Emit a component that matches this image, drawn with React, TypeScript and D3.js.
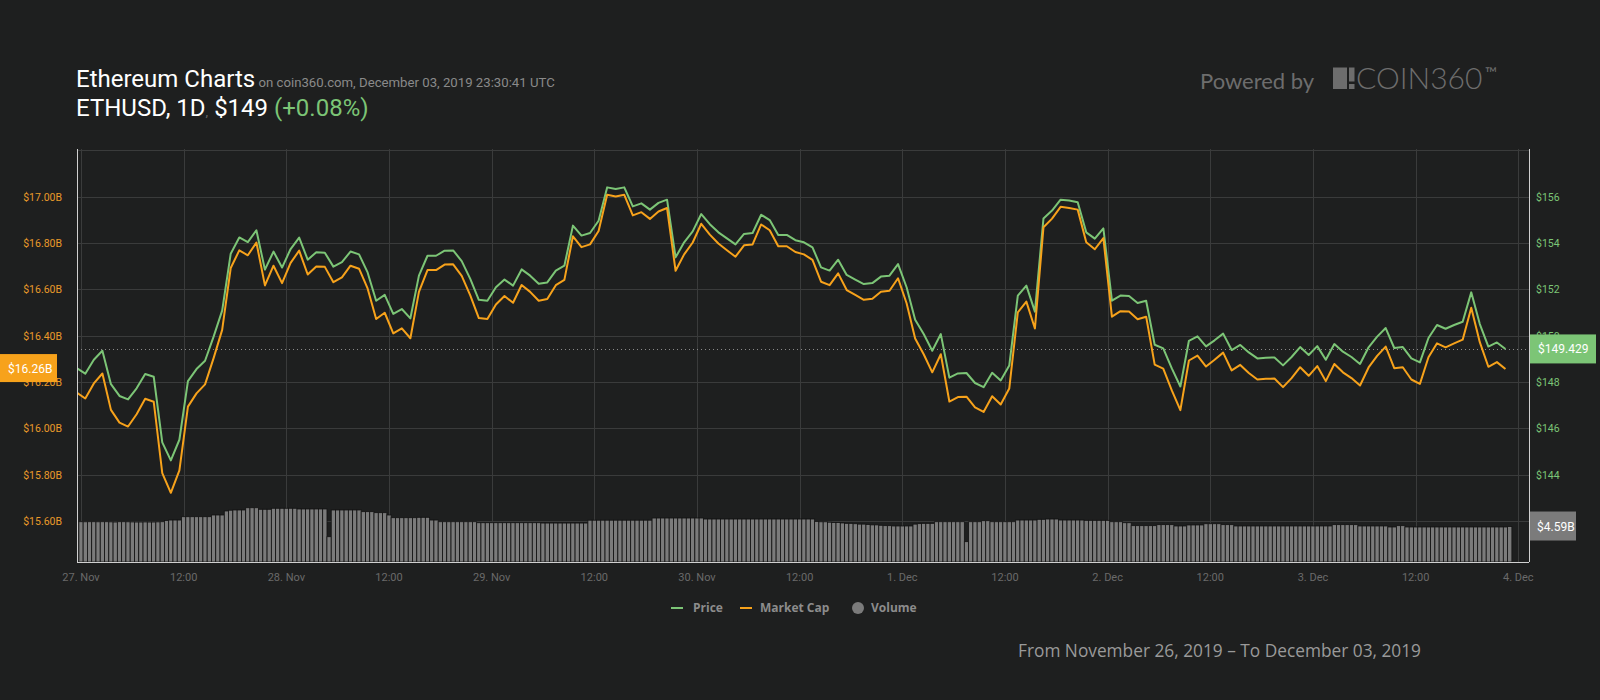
import { useEffect, useRef } from 'react';
import * as d3 from 'd3';

const WIDTH = 1600;
const HEIGHT = 700;

const BG = '#1e1f1f';
const GRID = '#3a3b3b';
const GREEN = '#7cc576';
const ORANGE = '#f7a21b';
const VOLUME = '#7b7b7b';

// hourly points, first one at 26 Nov 2019 23:30 UTC
const START = Date.UTC(2019, 10, 26, 23, 30);
const HOUR = 3600 * 1000;

// ETH price, USD
const priceValues = [
  148.6, 148.36, 148.96, 149.35, 147.91, 147.4, 147.25, 147.73, 148.35, 148.23, 145.4, 144.62, 145.51, 148.04, 148.56, 148.92, 149.96, 151.08, 153.54, 154.24, 154.04, 154.55, 152.85, 153.63,
  152.94, 153.74, 154.23, 153.28, 153.6, 153.58, 152.98, 153.17, 153.63, 153.51, 152.73, 151.51, 151.76, 150.94, 151.15, 150.75, 152.59, 153.45, 153.45, 153.67, 153.68, 153.22, 152.45, 151.55,
  151.51, 152.09, 152.42, 152.16, 152.86, 152.59, 152.24, 152.3, 152.81, 153.02, 154.75, 154.32, 154.43, 154.96, 156.4, 156.33, 156.4, 155.58, 155.71, 155.44, 155.73, 155.87, 153.38, 154.03,
  154.5, 155.25, 154.81, 154.46, 154.2, 153.94, 154.39, 154.43, 155.22, 154.99, 154.35, 154.35, 154.12, 154.03, 153.81, 152.95, 152.81, 153.28, 152.62, 152.42, 152.23, 152.27, 152.55, 152.59,
  153.09, 152.09, 150.69, 150.07, 149.35, 150.07, 148.19, 148.37, 148.39, 147.96, 147.78, 148.4, 148.07, 148.71, 151.73, 152.16, 151.04, 155.06, 155.4, 155.87, 155.83, 155.76, 154.46, 154.19,
  154.63, 151.51, 151.73, 151.71, 151.41, 151.51, 149.61, 149.45, 148.59, 147.81, 149.78, 149.97, 149.54, 149.8, 150.09, 149.38, 149.6, 149.28, 149.02, 149.05, 149.06, 148.72, 149.08, 149.51,
  149.17, 149.55, 148.96, 149.64, 149.31, 149.08, 148.78, 149.5, 149.96, 150.33, 149.47, 149.51, 149.02, 148.85, 149.9, 150.46, 150.3, 150.46, 150.6, 151.87, 150.5, 149.53, 149.71, 149.429,
];

// market cap, billions USD
const marketCapValues = [
  16.155, 16.129, 16.194, 16.237, 16.08, 16.025, 16.008, 16.061, 16.128, 16.115, 15.807, 15.722, 15.819, 16.094, 16.151, 16.19, 16.303, 16.425, 16.692, 16.768, 16.747, 16.802, 16.617, 16.702,
  16.627, 16.714, 16.767, 16.664, 16.699, 16.697, 16.631, 16.652, 16.702, 16.689, 16.604, 16.472, 16.499, 16.41, 16.432, 16.389, 16.589, 16.683, 16.683, 16.707, 16.708, 16.658, 16.574, 16.476,
  16.472, 16.535, 16.571, 16.542, 16.619, 16.589, 16.551, 16.558, 16.618, 16.641, 16.829, 16.782, 16.794, 16.852, 17.008, 17.001, 17.008, 16.919, 16.933, 16.904, 16.936, 16.951, 16.68, 16.751,
  16.802, 16.883, 16.836, 16.798, 16.769, 16.741, 16.79, 16.794, 16.88, 16.855, 16.786, 16.786, 16.761, 16.751, 16.727, 16.633, 16.618, 16.669, 16.597, 16.576, 16.555, 16.559, 16.59, 16.594,
  16.648, 16.54, 16.388, 16.32, 16.242, 16.32, 16.116, 16.135, 16.137, 16.091, 16.071, 16.139, 16.103, 16.172, 16.501, 16.547, 16.431, 16.868, 16.905, 16.956, 16.951, 16.944, 16.803, 16.773,
  16.821, 16.482, 16.506, 16.504, 16.471, 16.482, 16.275, 16.258, 16.164, 16.079, 16.293, 16.314, 16.267, 16.296, 16.327, 16.25, 16.274, 16.239, 16.211, 16.214, 16.215, 16.178, 16.217, 16.264,
  16.227, 16.269, 16.204, 16.278, 16.242, 16.217, 16.185, 16.263, 16.313, 16.353, 16.26, 16.264, 16.211, 16.192, 16.307, 16.367, 16.35, 16.367, 16.383, 16.521, 16.372, 16.266, 16.286, 16.256,
];

// 24h volume, billions USD, every 30 minutes from the same start
const volumeValues = [
  5.21, 5.21, 5.2, 5.21, 5.21, 5.2, 5.21, 5.21, 5.19, 5.17, 5.21, 5.21, 5.2, 5.18, 5.17, 5.17, 5.18, 5.17, 5.17, 5.19, 5.21, 5.38, 5.43, 5.43,
  5.43, 5.86, 5.86, 5.86, 5.86, 5.86, 5.86, 5.86, 6.08, 6.08, 6.08, 6.6, 6.7, 6.73, 6.73, 6.73, 7.02, 7.02, 7.02, 6.82, 6.82, 6.82, 6.95, 6.95,
  6.95, 6.95, 6.95, 6.95, 6.86, 6.86, 6.86, 6.86, 6.86, 6.86, 6.86, 3.27, 6.73, 6.73, 6.73, 6.73, 6.73, 6.73, 6.73, 6.51, 6.51, 6.51, 6.38, 6.38,
  6.38, 6.08, 5.73, 5.73, 5.73, 5.73, 5.73, 5.73, 5.78, 5.78, 5.78, 5.43, 5.43, 5.21, 5.21, 5.21, 5.21, 5.21, 5.21, 5.21, 5.21, 5.21, 5.08, 5.08,
  5.08, 5.08, 5.08, 5.08, 5.08, 5.08, 5.08, 5.08, 5.08, 5.08, 5.08, 5.08, 5.08, 5.04, 5.04, 5.04, 5.04, 5.04, 5.04, 5.04, 5.04, 5.04, 5.04, 5.04,
  5.41, 5.41, 5.41, 5.41, 5.41, 5.41, 5.41, 5.41, 5.41, 5.41, 5.41, 5.41, 5.41, 5.41, 5.41, 5.69, 5.69, 5.69, 5.69, 5.69, 5.69, 5.69, 5.69, 5.69,
  5.69, 5.69, 5.69, 5.56, 5.56, 5.56, 5.56, 5.56, 5.56, 5.56, 5.56, 5.56, 5.56, 5.56, 5.56, 5.56, 5.56, 5.56, 5.56, 5.56, 5.56, 5.56, 5.56, 5.56,
  5.56, 5.56, 5.56, 5.56, 5.56, 5.25, 5.2, 5.2, 5.15, 5.1, 5.1, 5.05, 5.0, 5.0, 4.95, 4.9, 4.9, 4.85, 4.8, 4.8, 4.75, 4.7, 4.7, 4.66,
  4.66, 4.66, 4.66, 4.66, 4.9, 4.96, 5.0, 5.0, 5.0, 5.21, 5.21, 5.21, 5.21, 5.21, 5.21, 5.21, 2.63, 5.21, 5.21, 5.21, 5.34, 5.34, 5.21, 5.21,
  5.21, 5.21, 5.21, 5.21, 5.43, 5.43, 5.43, 5.43, 5.43, 5.52, 5.52, 5.56, 5.56, 5.56, 5.43, 5.43, 5.43, 5.43, 5.43, 5.43, 5.39, 5.39, 5.39, 5.39,
  5.39, 5.39, 5.21, 5.21, 5.21, 5.08, 5.08, 4.7, 4.7, 4.7, 4.7, 4.7, 4.7, 4.83, 4.83, 4.83, 4.83, 4.66, 4.66, 4.66, 4.79, 4.79, 4.79, 4.79,
  4.95, 4.95, 4.95, 4.95, 4.83, 4.83, 4.83, 4.66, 4.66, 4.66, 4.66, 4.66, 4.66, 4.66, 4.66, 4.66, 4.66, 4.66, 4.66, 4.66, 4.66, 4.66, 4.66, 4.66,
  4.66, 4.66, 4.66, 4.66, 4.66, 4.66, 4.83, 4.83, 4.83, 4.83, 4.83, 4.83, 4.66, 4.66, 4.66, 4.66, 4.66, 4.66, 4.66, 4.53, 4.53, 4.7, 4.7, 4.53,
  4.53, 4.53, 4.53, 4.53, 4.53, 4.53, 4.53, 4.53, 4.53, 4.53, 4.53, 4.53, 4.53, 4.53, 4.53, 4.53, 4.53, 4.53, 4.53, 4.53, 4.53, 4.53, 4.53, 4.59,
];

// gridlines run 142..158; only 144..156 show a label ($142 sits under the volume flag)
const priceTicks = [142, 144, 146, 148, 150, 152, 154, 156, 158];
const priceLabelTicks = [144, 146, 148, 150, 152, 154, 156];
const priceTickLabels = ['$144', '$146', '$148', '$150', '$152', '$154', '$156'];
const capTicks = [15.6, 15.8, 16.0, 16.2, 16.4, 16.6, 16.8, 17.0];
const capTickLabels = ['$15.60B', '$15.80B', '$16.00B', '$16.20B', '$16.40B', '$16.60B', '$16.80B', '$17.00B'];
const timeTickLabels = [
  '27. Nov', '12:00', '28. Nov', '12:00', '29. Nov', '12:00', '30. Nov', '12:00',
  '1. Dec', '12:00', '2. Dec', '12:00', '3. Dec', '12:00', '4. Dec',
];

const lastPriceLabel = '$149.429';
const lastCapLabel = '$16.26B';
const lastVolumeLabel = '$4.59B';

const App = () => {
  const ref = useRef<SVGSVGElement | null>(null);

  useEffect(() => {
    if (!ref.current) return;
    document.body.style.margin = '0';
    document.body.style.background = BG;

    const svg = d3.select(ref.current);
    svg.selectAll('*').remove();

    const plot = { left: 77, right: 1529, top: 149, bottom: 562 };
    const crisp = (v: number) => Math.round(v) + 0.5;

    const x = d3
      .scaleUtc()
      .domain([new Date(Date.UTC(2019, 10, 27)), new Date(Date.UTC(2019, 11, 4))])
      .range([81, 1518.3]);
    const yPrice = d3.scaleLinear().domain([142, 158]).range([521.1, 150.3]);
    const yCap = d3.scaleLinear().domain([15.6, 17.2]).range([521.1, 150.3]);
    const yVol = d3.scaleLinear().domain([0, 10]).range([plot.bottom, 484.7]);

    const hourTime = (i: number) => new Date(START + i * HOUR);
    const halfHourTime = (i: number) => new Date(START + (i * HOUR) / 2);

    svg.append('rect').attr('width', WIDTH).attr('height', HEIGHT).attr('fill', BG);

    svg
      .append('defs')
      .append('clipPath')
      .attr('id', 'plot-clip')
      .append('rect')
      .attr('x', plot.left)
      .attr('y', plot.top)
      .attr('width', plot.right - plot.left)
      .attr('height', plot.bottom - plot.top);

    // grid
    const grid = svg.append('g').attr('stroke', GRID).attr('stroke-width', 1);
    grid
      .selectAll('line.h')
      .data(priceTicks)
      .join('line')
      .attr('class', 'h')
      .attr('x1', plot.left)
      .attr('x2', plot.right)
      .attr('y1', (d) => crisp(yPrice(d)))
      .attr('y2', (d) => crisp(yPrice(d)));

    const timeTicks = x.ticks(d3.utcHour.every(12)!);
    grid
      .selectAll('line.v')
      .data(timeTicks)
      .join('line')
      .attr('class', 'v')
      .attr('x1', (d) => crisp(x(d)))
      .attr('x2', (d) => crisp(x(d)))
      .attr('y1', plot.top)
      .attr('y2', plot.bottom);

    // volume columns
    const step = x(halfHourTime(1)) - x(halfHourTime(0));
    svg
      .append('g')
      .attr('clip-path', 'url(#plot-clip)')
      .selectAll('rect')
      .data(volumeValues)
      .join('rect')
      .attr('x', (_, i) => x(halfHourTime(i)) - step / 2)
      .attr('y', (d) => yVol(d))
      .attr('width', step)
      .attr('height', (d) => plot.bottom - yVol(d))
      .attr('fill', VOLUME)
      .attr('stroke', '#121212')
      .attr('stroke-width', 0.8);

    // last price guide
    svg
      .append('line')
      .attr('x1', plot.left)
      .attr('x2', plot.right)
      .attr('y1', crisp(yPrice(priceValues[priceValues.length - 1])))
      .attr('y2', crisp(yPrice(priceValues[priceValues.length - 1])))
      .attr('stroke', '#8a8a8a')
      .attr('stroke-width', 1)
      .attr('stroke-dasharray', '1,3');

    const lines = svg.append('g').attr('clip-path', 'url(#plot-clip)');
    const priceLine = d3
      .line<number>()
      .x((_, i) => x(hourTime(i)))
      .y((d) => yPrice(d));
    const capLine = d3
      .line<number>()
      .x((_, i) => x(hourTime(i)))
      .y((d) => yCap(d));

    lines
      .append('path')
      .attr('d', priceLine(priceValues))
      .attr('fill', 'none')
      .attr('stroke', GREEN)
      .attr('stroke-width', 2)
      .attr('stroke-linejoin', 'round');
    lines
      .append('path')
      .attr('d', capLine(marketCapValues))
      .attr('fill', 'none')
      .attr('stroke', ORANGE)
      .attr('stroke-width', 2)
      .attr('stroke-linejoin', 'round');

    // axis lines
    const axisLines = svg.append('g').attr('stroke', '#d0d0d0').attr('stroke-width', 1);
    axisLines.append('line').attr('x1', plot.left + 0.5).attr('x2', plot.left + 0.5).attr('y1', plot.top).attr('y2', plot.bottom);
    axisLines.append('line').attr('x1', plot.right + 0.5).attr('x2', plot.right + 0.5).attr('y1', plot.top).attr('y2', plot.bottom);
    axisLines.append('line').attr('x1', plot.left).attr('x2', plot.right).attr('y1', plot.bottom + 0.5).attr('y2', plot.bottom + 0.5);

    // axis labels
    const axisFont = 'Roboto, sans-serif';
    svg
      .append('g')
      .selectAll('text')
      .data(capTicks)
      .join('text')
      .attr('x', 62)
      .attr('y', (d) => yCap(d) + 4)
      .attr('text-anchor', 'end')
      .attr('font-family', axisFont)
      .attr('font-size', 10.5)
      .attr('fill', '#e99a2a')
      .text((_, i) => capTickLabels[i]);

    svg
      .append('g')
      .selectAll('text')
      .data(priceLabelTicks)
      .join('text')
      .attr('x', 1536)
      .attr('y', (d) => yPrice(d) + 4)
      .attr('font-family', axisFont)
      .attr('font-size', 10.5)
      .attr('fill', GREEN)
      .text((_, i) => priceTickLabels[i]);

    svg
      .append('g')
      .selectAll('text')
      .data(timeTicks)
      .join('text')
      .attr('x', (d) => x(d))
      .attr('y', 581)
      .attr('text-anchor', 'middle')
      .attr('font-family', axisFont)
      .attr('font-size', 11)
      .attr('fill', '#6a6a6a')
      .text((_, i) => timeTickLabels[i]);

    // last value flags
    const capY = yCap(marketCapValues[marketCapValues.length - 1]);
    svg.append('rect').attr('x', 0).attr('y', capY - 15).attr('width', 57).attr('height', 28).attr('fill', ORANGE);
    svg
      .append('text')
      .attr('x', 8)
      .attr('y', capY + 4)
      .attr('font-family', axisFont)
      .attr('font-size', 12)
      .attr('fill', '#ffffff')
      .text(lastCapLabel);

    const priceY = yPrice(priceValues[priceValues.length - 1]);
    svg.append('rect').attr('x', plot.right + 1).attr('y', priceY - 14.5).attr('width', 66).attr('height', 29).attr('fill', GREEN);
    svg
      .append('text')
      .attr('x', 1538)
      .attr('y', priceY + 4.5)
      .attr('font-family', axisFont)
      .attr('font-size', 12)
      .attr('fill', '#ffffff')
      .text(lastPriceLabel);

    const volY = yVol(volumeValues[volumeValues.length - 1]);
    svg.append('rect').attr('x', plot.right + 1).attr('y', volY - 15).attr('width', 46).attr('height', 29).attr('fill', VOLUME);
    svg
      .append('text')
      .attr('x', 1537)
      .attr('y', volY + 4)
      .attr('font-family', axisFont)
      .attr('font-size', 12)
      .attr('fill', '#ffffff')
      .text(lastVolumeLabel);

    // title block
    const title = svg.append('text').attr('x', 76).attr('y', 87).attr('font-family', axisFont);
    title.append('tspan').attr('font-size', 24).attr('fill', '#ffffff').text('Ethereum Charts');
    title.append('tspan').attr('font-size', 13.2).attr('fill', '#8a8a8a').text(' on coin360.com, December 03, 2019 23:30:41 UTC');

    const sub = svg.append('text').attr('x', 76).attr('y', 116).attr('font-family', axisFont);
    sub.append('tspan').attr('font-size', 24).attr('fill', '#ffffff').text('ETHUSD, 1D');
    sub.append('tspan').attr('font-size', 13).attr('fill', '#6a6a6a').text(',');
    sub.append('tspan').attr('font-size', 24).attr('fill', '#ffffff').text(' $149');
    sub.append('tspan').attr('font-size', 24).attr('fill', GREEN).text(' (+0.08%)');

    // powered by logo
    const logoColor = '#6d6d6d';
    svg
      .append('text')
      .attr('x', 1200)
      .attr('y', 89)
      .attr('font-family', 'Lato, sans-serif')
      .attr('font-size', 22)
      .attr('fill', logoColor)
      .text('Powered by');
    svg.append('rect').attr('x', 1333).attr('y', 67.5).attr('width', 14).attr('height', 21.5).attr('fill', logoColor);
    svg.append('rect').attr('x', 1349).attr('y', 67.5).attr('width', 5.5).attr('height', 14).attr('fill', logoColor);
    svg.append('rect').attr('x', 1349).attr('y', 84).attr('width', 5.5).attr('height', 5).attr('fill', logoColor);
    svg
      .append('text')
      .attr('x', 1356)
      .attr('y', 89)
      .attr('font-family', 'Lato, sans-serif')
      .attr('font-weight', 300)
      .attr('font-size', 30)
      .attr('fill', logoColor)
      .text('COIN360');
    svg
      .append('text')
      .attr('x', 1485)
      .attr('y', 79)
      .attr('font-family', 'Lato, sans-serif')
      .attr('font-size', 16)
      .attr('fill', logoColor)
      .text('™');

    // legend
    const legend = svg.append('g').attr('font-family', '"Open Sans", sans-serif').attr('font-size', 12).attr('font-weight', 700).attr('fill', '#8c8c8c');
    const legendY = 608;
    legend.append('line').attr('x1', 671).attr('x2', 683).attr('y1', legendY).attr('y2', legendY).attr('stroke', GREEN).attr('stroke-width', 2);
    legend.append('text').attr('x', 693).attr('y', legendY + 4).text('Price');
    legend.append('line').attr('x1', 740).attr('x2', 752).attr('y1', legendY).attr('y2', legendY).attr('stroke', ORANGE).attr('stroke-width', 2);
    legend.append('text').attr('x', 760).attr('y', legendY + 4).text('Market Cap');
    legend.append('circle').attr('cx', 858).attr('cy', legendY).attr('r', 6).attr('fill', VOLUME);
    legend.append('text').attr('x', 871).attr('y', legendY + 4).text('Volume');

    svg
      .append('text')
      .attr('x', 1018)
      .attr('y', 657)
      .attr('font-family', '"Open Sans", sans-serif')
      .attr('font-size', 17.3)
      .attr('fill', '#9a9a9a')
      .text('From November 26, 2019 – To December 03, 2019');
  }, []);

  return (
    <div style={{ position: 'absolute', left: 0, top: 0 }}>
      <svg ref={ref} width={WIDTH} height={HEIGHT} role="img" aria-label="Ethereum chart" style={{ display: 'block' }} />
    </div>
  );
};

export default App;
